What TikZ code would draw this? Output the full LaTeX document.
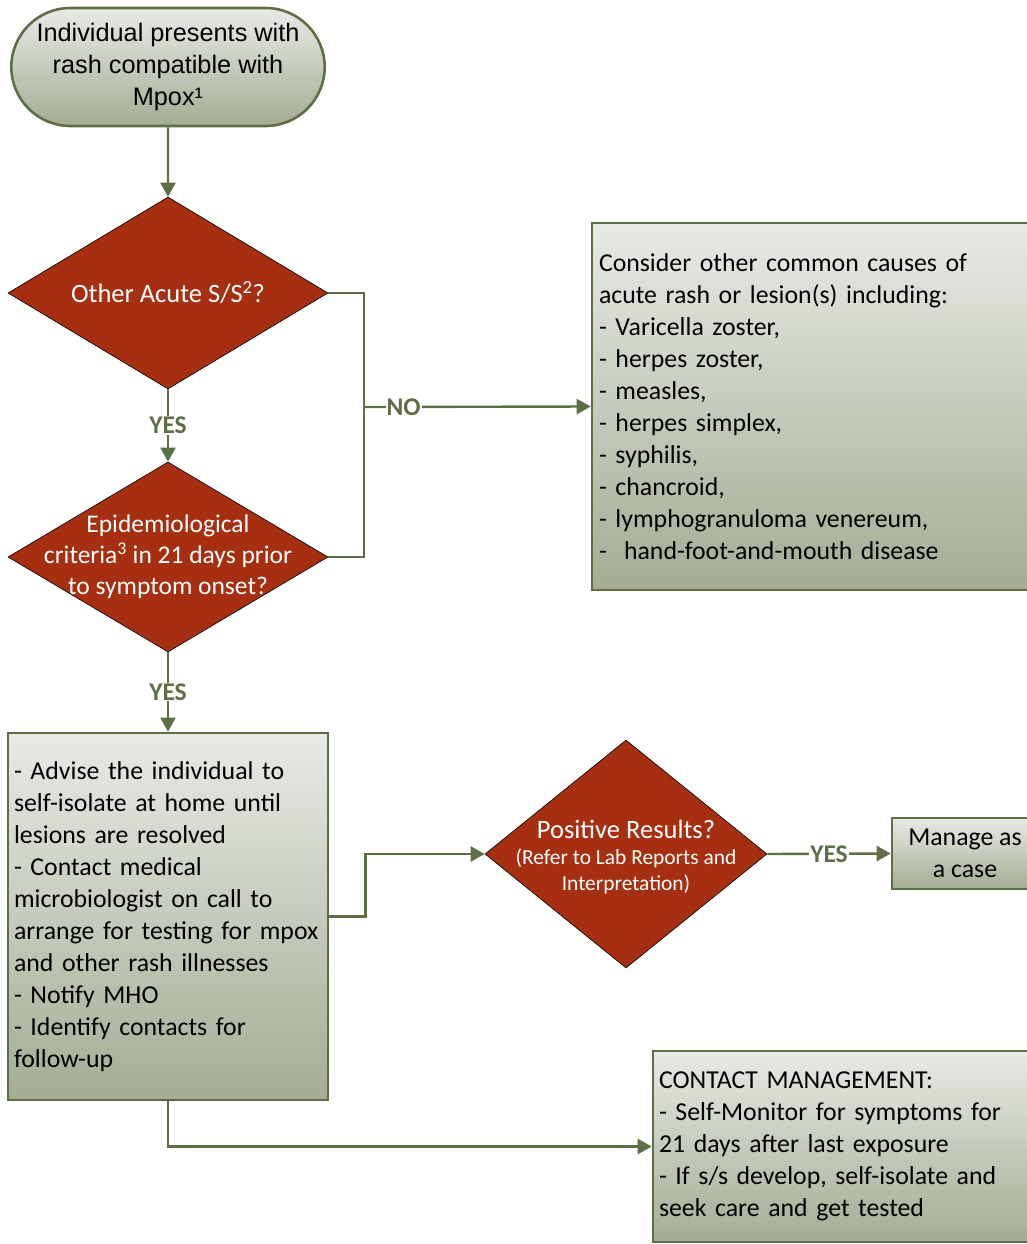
\documentclass[tikz,border=0pt]{standalone}
\usepackage{fontspec}
\setmainfont{Carlito}
\newfontfamily\startfont{Liberation Sans}
\usetikzlibrary{arrows.meta,shapes.geometric,shapes.misc}
\definecolor{leaf}{HTML}{5D7045}
\definecolor{rust}{HTML}{A52F10}
\definecolor{paletop}{HTML}{E8EAE6}
\definecolor{palebot}{HTML}{A3AD93}
\tikzset{
  shadedbox/.style={draw=leaf, line width=2.6pt, top color=paletop, bottom color=palebot,
    font=\fontsize{25.8}{32}\selectfont, inner ysep=0pt},
  decision/.style={diamond, draw=black, line width=0.6pt, fill=rust, inner sep=0pt},
  flow/.style={leaf, line width=2.4pt, -{Triangle[length=14pt,width=15pt]}},
  link/.style={leaf, line width=2.4pt},
  answer/.style={fill=white, text=leaf, inner sep=1pt, font=\fontsize{25.5}{25.5}\selectfont\bfseries}
}
\begin{document}
\begin{tikzpicture}[x=1pt,y=-1pt]
			\useasboundingbox (0,0) rectangle (1027,1244);
			\clip (0,0) rectangle (1027,1244);
			
			%%%%% NODES %%%%%
			\node[shadedbox, rounded rectangle, minimum width=320pt, minimum height=118pt,
			  align=center, font=\startfont\fontsize{25.3}{32}\selectfont] (start) at (168,67)
			  {Individual presents with\\rash compatible with\\Mpox¹};
			
			\node[decision, minimum width=320pt, minimum height=192pt,
			  label={[text=white, font=\fontsize{26.5}{30}\selectfont]center:Other Acute S/S\textsuperscript{2}?}] (acute) at (168,293) {};
			
			\node[decision, minimum width=320pt, minimum height=190pt,
			  label={[text=white, align=center, font=\fontsize{25.5}{31}\selectfont]center:Epidemiological\\criteria\textsuperscript{3} in 21 days prior\\to symptom onset?}] (epi) at (168,557) {};
			
			\node[shadedbox, minimum width=445pt, minimum height=367pt, text width=431pt,
			  inner xsep=7pt, align=left] (other) at (814.5,406.5)
			  {Consider other common causes of\\acute rash or lesion(s) including:\\- Varicella zoster,\\- herpes zoster,\\- measles,\\- herpes simplex,\\- syphilis,\\- chancroid,\\- lymphogranuloma venereum,\\-\ \ hand-foot-and-mouth disease};
			
			\node[shadedbox, minimum width=320pt, minimum height=367pt, text width=308pt,
			  inner xsep=6pt, align=left] (advise) at (168,916.5)
			  {- Advise the individual to\\self-isolate at home until\\lesions are resolved\\- Contact medical\\microbiologist on call to\\arrange for testing for mpox\\and other rash illnesses\\- Notify MHO\\- Identify contacts for\\follow-up};
			
			\node[decision, minimum width=282pt, minimum height=228pt,
			  label={[text=white, align=center, yshift=-3pt, font=\fontsize{26.5}{26}\selectfont]center:Positive Results?\\{\fontsize{21.4}{25}\selectfont (Refer to Lab Reports and}\\{\fontsize{21.4}{25}\selectfont Interpretation)}}] (positive) at (626,854) {};
			
			\node[shadedbox, minimum width=146pt, minimum height=71pt, align=center] (case) at (965,853.5)
			  {Manage as\\a case};
			
			\node[shadedbox, minimum width=384pt, minimum height=191pt, text width=372pt,
			  inner xsep=6pt, align=left] (contact) at (845,1146.5)
			  {CONTACT MANAGEMENT:\\- Self-Monitor for symptoms for\\21 days after last exposure\\- If s/s develop, self-isolate and\\seek care and get tested};
			
			\coordinate (nojoin) at (364,407);
			
			%%%%% CONNECTORS %%%%%
			\draw[flow] (start) -- (acute);
			\draw[flow] (acute) -- node[answer] {YES} (epi);
			\draw[flow] (epi) -- node[answer] {YES} (advise);
			\draw[link] (acute.east) -| (nojoin);
			\draw[link] (epi.east) -| (nojoin);
			\draw[flow] (nojoin) -- node[answer, pos=0.175] {NO} (other.west);
			\draw[flow] (advise.east) -- ++(36,0) |- (positive.west);
			\draw[flow] (positive.east) -- node[answer] {YES} (case.west);
			\draw[flow] (advise.south) |- (contact.west);
		\end{tikzpicture}
\end{document}
